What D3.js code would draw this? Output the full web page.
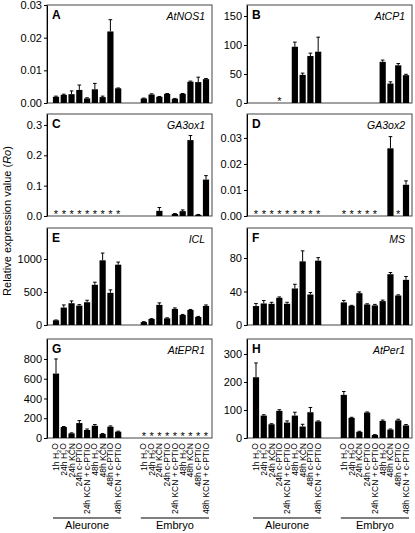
<!DOCTYPE html>
<html><head><meta charset="utf-8">
<script src="https://cdn.jsdelivr.net/npm/d3@7"></script>
<style>body{margin:0;background:#fff} svg{display:block;font-family:"Liberation Sans",Arial,Helvetica,sans-serif}</style>
</head><body><svg id="c" width="415" height="533"></svg>
<script>
// ---- data ----
const categories = ["1h H2O","24h H2O","24h KCN","24h c-PTIO","24h KCN + c-PTIO","48h H2O","48h KCN","48h c-PTIO","48h KCN + c-PTIO"];
const tissues = ["Aleurone","Embryo"];
const panelLetters = ["A","B","C","D","E","F","G","H"];
const geneNames = ["AtNOS1","AtCP1","GA3ox1","GA3ox2","ICL","MS","AtEPR1","AtPer1"];
const yTickValues = [
  [0,0.01,0.02,0.03],[0,50,100,150],[0,0.1,0.2,0.3],[0,0.01,0.02,0.03],
  [0,500,1000],[0,40,80],[0,200,400,600,800],[0,100,200,300]
];
const yTickFormats = [".2f","d",".1f",".2f","d","d","d","d"];
const yMaxima = [0.03,169,0.336,0.0392,1470,115.8,1002,353.6];
// values: 9 aleurone then 9 embryo; null = not detected (*)
const valuesA = [0.0019,0.0025,0.0027,0.004,0.0014,0.0042,0.0018,0.0219,0.0045, 0.0014,0.0026,0.0019,0.0028,0.0013,0.0028,0.0065,0.0064,0.0073];
const errorsA = [0.0002,0.0002,0.001,0.0015,0.0002,0.0018,0.0003,0.0036,0.0001, 0.0001,0.0002,0.0001,0.0001,0.0001,0.0001,0.0002,0.0015,0.0002];
const valuesB = [0,0,0,null,0,97,48.5,81,88.5, 0,0,0,0,0,71,33.5,65,48];
const errorsB = [0,0,0,0,0,8,3,5,25, 0,0,0,0,0,3,3,3,1.5];
const valuesC = [null,null,null,null,null,null,null,null,null, 0,0,0.017,0,0.007,0.016,0.25,0.004,0.12];
const errorsC = [0,0,0,0,0,0,0,0,0, 0,0,0.011,0,0.001,0.004,0.015,0.001,0.013];
const valuesD = [null,null,null,null,null,null,null,null,null, null,null,null,null,null,0,0.026,null,0.012];
const errorsD = [0,0,0,0,0,0,0,0,0, 0,0,0,0,0,0,0.0045,0,0.0015];
const valuesE = [71,264,330,294,345,609,980,487,914, 45,91,305,101,244,152,228,122,289];
const errorsE = [5,40,35,15,30,40,110,45,40, 5,5,30,8,15,8,8,8,15];
const valuesF = [22.6,25.7,25.3,32.5,25.3,43.6,76,36.4,76.8, 27,23,38,24.5,23.4,28.5,60.6,35.2,53.9];
const errorsF = [3,3.5,1.8,1,1.8,5,12.5,2.4,3.6, 2.3,0.5,1.5,0.8,1.2,1.2,2,0.8,4];
const valuesG = [652,111,47,151,81,124,40,114,64, null,null,null,null,null,null,null,null,null];
const errorsG = [148,5,5,25,10,12,5,8,5, 0,0,0,0,0,0,0,0,0];
const valuesH = [217,80,49,97,55,80,41,92,59, 154,72,22,91,11,61,30,63,45];
const errorsH = [51,3,2,4,6,12,8,17,2, 12,2,2,2,1,3,2,4,3];

const panelValues = [valuesA,valuesB,valuesC,valuesD,valuesE,valuesF,valuesG,valuesH];
const panelErrors = [errorsA,errorsB,errorsC,errorsD,errorsE,errorsF,errorsG,errorsH];

// ---- layout ----
const svg = d3.select("#c");
const colX = [47,247], panelW = 165;
const rowsY = [[5,103],[114,216],[228,325],[339,438]];
const gap = 1.3;
const slotOf = k => k < 9 ? k : k + 1 + gap;

panelLetters.forEach((letter,i)=>{
  const col = i%2, row = Math.floor(i/2);
  const x0 = colX[col], top = rowsY[row][0], bottom = rowsY[row][1];
  const g = svg.append("g");
  const y = d3.scaleLinear().domain([0,yMaxima[i]]).range([bottom,top]);
  const xs = d3.scaleLinear().domain([0,17+gap+1]).range([x0+9,x0+159]);
  const vals = panelValues[i], errs = panelErrors[i];
  const data = vals.map((v,k)=>({v,e:errs[k],cx:xs(slotOf(k))}));

  g.append("rect").attr("x",x0).attr("y",top).attr("width",panelW).attr("height",bottom-top)
    .attr("fill","none").attr("stroke","#444").attr("stroke-width",1);

  const bars = data.filter(d=>d.v!==null && d.v>0);
  g.selectAll(".bar").data(bars).join("rect")
    .attr("x",d=>d.cx-3.1).attr("width",6.2)
    .attr("y",d=>y(d.v)).attr("height",d=>bottom-y(d.v)).attr("fill","#000");
  const eb = bars.filter(d=>d.e>0);
  g.selectAll(".ev").data(eb).join("line")
    .attr("x1",d=>d.cx).attr("x2",d=>d.cx).attr("y1",d=>y(d.v)).attr("y2",d=>y(d.v+d.e))
    .attr("stroke","#000").attr("stroke-width",1);
  g.selectAll(".ec").data(eb).join("line")
    .attr("x1",d=>d.cx-1.8).attr("x2",d=>d.cx+1.8).attr("y1",d=>y(d.v+d.e)).attr("y2",d=>y(d.v+d.e))
    .attr("stroke","#000").attr("stroke-width",1);
  g.selectAll(".star").data(data.filter(d=>d.v===null)).join("text")
    .attr("x",d=>d.cx).attr("y",bottom+1.5).attr("text-anchor","middle")
    .attr("font-size","11px").attr("fill","#000").text("*");

  const ax = g.append("g").attr("transform",`translate(${x0},0)`)
    .call(d3.axisLeft(y).tickValues(yTickValues[i]).tickFormat(d3.format(yTickFormats[i])).tickSize(3).tickSizeOuter(0).tickPadding(2));
  ax.select(".domain").attr("stroke","#000");
  ax.selectAll(".tick line").attr("stroke","#000");
  ax.selectAll(".tick text").attr("font-size","11px").attr("fill","#000").attr("font-family",null);

  g.append("text").attr("x",x0+5).attr("y",top+13.5).attr("font-weight","bold")
    .attr("font-size","12px").text(letter);
  g.append("text").attr("x",x0+158).attr("y",top+15).attr("text-anchor","end")
    .attr("font-style","italic").attr("font-size","10.5px").text(geneNames[i]);

  if(row===3){
    data.forEach((d,k)=>{
      const lab = categories[k%9];
      const t = g.append("text").attr("transform",`translate(${d.cx},443) rotate(-90)`)
        .attr("text-anchor","end").attr("dy","0.35em").attr("font-size","8.5px");
      const m = lab.match(/^(.*H)2(O.*)$/);
      if(m){
        t.append("tspan").text(m[1]);
        t.append("tspan").attr("font-size","6px").attr("dy","0.3em").text("2");
        t.append("tspan").attr("dy","-0.3em").text(m[2]);
      } else t.text(lab);
    });
    tissues.forEach((ts,j)=>{
      const a = xs(slotOf(j*9))-3, b = xs(slotOf(j*9+8))+3;
      g.append("line").attr("x1",a).attr("x2",b).attr("y1",518).attr("y2",518)
        .attr("stroke","#000").attr("stroke-width",1.2);
      g.append("text").attr("x",(a+b)/2).attr("y",529).attr("text-anchor","middle")
        .attr("font-size","11px").text(ts);
    });
  }
});

const yt = svg.append("text").attr("transform","translate(11,221) rotate(-90)")
  .attr("text-anchor","middle").attr("font-size","11px");
yt.append("tspan").text("Relative expression value (");
yt.append("tspan").attr("font-style","italic").text("Ro");
yt.append("tspan").text(")");
</script></body></html>
